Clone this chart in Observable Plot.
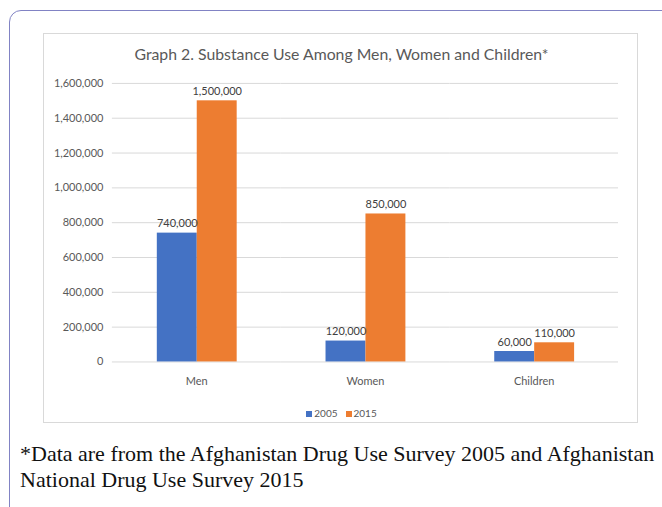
<!DOCTYPE html>
<html>
<head>
<meta charset="utf-8">
<script src="https://cdn.jsdelivr.net/npm/d3@7"></script>
<script src="https://cdn.jsdelivr.net/npm/@observablehq/plot@0.6"></script>
<style>
  html, body { margin: 0; padding: 0; background: #fff; width: 662px; height: 507px; overflow: hidden; }
  #outer { position: absolute; left: 9px; top: 10px; width: 700px; height: 560px; border: 1.3px solid #8183C4; border-radius: 12px; box-sizing: border-box; }
  #box { position: absolute; left: 43px; top: 33px; width: 595px; height: 390px; border: 1px solid #D9D9D9; box-sizing: border-box; background: #fff; }
  #title { position: absolute; left: 0; width: 595px; top: 10px; text-align: center; font-family: Lato, sans-serif; font-size: 15.8px; color: #595959; }
  #chart { position: absolute; left: -1px; top: -1px; }
  #legend { position: absolute; left: 0; width: 595px; top: 373px; text-align: center; font-family: Lato, sans-serif; font-size: 10px; color: #595959; }
  #legend span.sw { display: inline-block; width: 6px; height: 6px; margin-right: 2px; vertical-align: 0px; }
  #legend span.item { margin: 0 4px; }
  #caption { position: absolute; left: 20px; top: 441px; width: 640px; font-family: "Liberation Serif", "Times New Roman", serif; font-size: 22px; line-height: 26px; color: #111; }
</style>
</head>
<body>
<div id="outer"></div>
<div id="box">
  <div id="title">Graph 2. Substance Use Among Men, Women and Children*</div>
  <div id="chart"></div>
  <div id="legend"></div>
</div>
<div id="caption">*Data are from the Afghanistan Drug Use Survey 2005 and Afghanistan National Drug Use Survey 2015</div>
<script>
const categories = ["Men", "Women", "Children"];
const years = ["2005", "2015"];
const values2005 = [740000, 120000, 60000];
const values2015 = [1500000, 850000, 110000];
const yTicks = [0, 200000, 400000, 600000, 800000, 1000000, 1200000, 1400000, 1600000];
const colors = ["#4472C4", "#ED7D31"];

const data = [];
categories.forEach((c, i) => {
  data.push({category: c, year: years[0], value: values2005[i]});
  data.push({category: c, year: years[1], value: values2015[i]});
});

const fmt = d3.format(",");

const chart = Plot.plot({
  width: 595,
  height: 370,
  marginLeft: 68,
  marginRight: 18,
  marginTop: 50,
  marginBottom: 41,
  style: {fontFamily: "Lato, sans-serif", fontSize: "11px", color: "#595959", background: "transparent"},
  fx: {domain: categories, padding: 0, label: null, tickSize: 0, tickPadding: 15},
  x: {domain: years, paddingInner: 0, paddingOuter: 1.08, axis: null},
  y: {domain: [0, 1600000], ticks: yTicks, tickFormat: fmt, label: null, tickSize: 0, tickPadding: 9, grid: false},
  color: {domain: years, range: colors},
  marks: [
    Plot.ruleY(yTicks, {stroke: "#D9D9D9", strokeOpacity: 1, strokeWidth: 1}),
    Plot.barY(data, {fx: "category", x: "year", y: "value", fill: "year"}),
    Plot.text(data, {fx: "category", x: "year", y: "value", text: d => fmt(d.value), lineAnchor: "bottom", dy: -6, fill: "#404040", fontSize: 11})
  ]
});
document.getElementById("chart").appendChild(chart);

const legend = document.getElementById("legend");
years.forEach((y, i) => {
  const item = document.createElement("span");
  item.className = "item";
  const sw = document.createElement("span");
  sw.className = "sw";
  sw.style.background = colors[i];
  item.appendChild(sw);
  item.appendChild(document.createTextNode(y));
  legend.appendChild(item);
});
</script>
</body>
</html>
